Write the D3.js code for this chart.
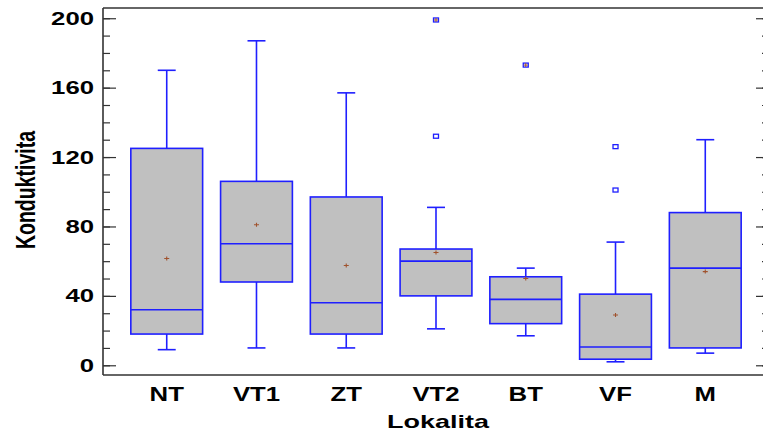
<!DOCTYPE html>
<html><head><meta charset="utf-8">
<script src="https://cdn.jsdelivr.net/npm/d3@7"></script>
<style>
html,body{margin:0;padding:0;background:#fff;}
text{font-family:"Liberation Sans",Arial,sans-serif;font-weight:bold;fill:#000;}
</style></head>
<body>
<svg id="chart" width="763" height="441"></svg>
<script>
const categories = ["NT","VT1","ZT","VT2","BT","VF","M"];
const whiskerLow  = [9, 10, 10, 21, 17, 2, 7];
const q1          = [18, 48, 18, 40, 24, 3.5, 10];
const medians     = [32, 70, 36, 60, 38, 10.5, 56];
const q3          = [125, 106, 97, 67, 51, 41, 88];
const whiskerHigh = [170, 187, 157, 91, 56, 71, 130];
const means       = [61.5, 81, 57.5, 65, 50, 29, 54];
const outliers    = [[], [], [], [132], [], [101, 126], []];
const farOutliers = [[], [], [], [199], [173], [], []];
const yTicks      = [0, 40, 80, 120, 160, 200];
const yMinorTicks = d3.range(0, 201, 10);
const xTitle = "Lokalita";
const yTitle = "Konduktivita";

const L = 103, R = 769, T = 8, B = 375;
const svg = d3.select("#chart");
const x = d3.scalePoint().domain(categories).range([L, R]).padding(0.71);
const y = d3.scaleLinear().domain([-5.6, 205.9]).range([B, T]);
const step = x.step();
const boxW = step * 0.8, capW = step * 0.2;
const blue = "#1f1fff", axisCol = "#333";

// frame
svg.append("line").attr("x1", L).attr("x2", R).attr("y1", T).attr("y2", T)
  .attr("stroke", axisCol).attr("stroke-width", 1.6);
svg.append("line").attr("x1", L).attr("x2", R).attr("y1", B).attr("y2", B)
  .attr("stroke", axisCol).attr("stroke-width", 1.6);
svg.append("line").attr("x1", L).attr("x2", L).attr("y1", T).attr("y2", B)
  .attr("stroke", axisCol).attr("stroke-width", 1.6);

// axes ticks (inward)
function styleAxis(g){ g.select(".domain").remove(); g.selectAll("line").attr("stroke", axisCol).attr("stroke-width",1.2); }
svg.append("g").attr("transform", `translate(${L},0)`)
  .call(d3.axisLeft(y).tickValues(yMinorTicks).tickSize(-7).tickFormat("")).call(styleAxis);
svg.append("g").attr("transform", `translate(${L},0)`)
  .call(d3.axisLeft(y).tickValues(yTicks).tickSize(-13).tickFormat("")).call(styleAxis);
svg.append("g").attr("transform", `translate(${R},0)`)
  .call(d3.axisLeft(y).tickValues(yMinorTicks).tickSize(7).tickFormat("")).call(styleAxis);
svg.append("g").attr("transform", `translate(${R},0)`)
  .call(d3.axisLeft(y).tickValues(yTicks).tickSize(13).tickFormat("")).call(styleAxis);

// tick labels (horizontally stretched like the reference)
svg.append("g").selectAll("text").data(yTicks).join("text")
  .attr("transform", d => `translate(94,${y(d) + 6.5}) scale(1.43,1)`)
  .attr("text-anchor", "end").style("font-size", "18px").text(d => d);

svg.append("g").selectAll("text").data(categories).join("text")
  .attr("transform", d => `translate(${x(d)},401) scale(1.32,1)`)
  .attr("text-anchor", "middle").style("font-size", "19.5px").text(d => d);

svg.append("text").attr("transform", "translate(438,428) scale(1.42,1)")
  .attr("text-anchor", "middle").style("font-size", "19px").text(xTitle);
svg.append("text").attr("transform", "translate(35,190) scale(1.4,1) rotate(-90)")
  .attr("text-anchor", "middle").style("font-size", "19.5px").text(yTitle);

// boxes
const g = svg.append("g");
categories.forEach((c, i) => {
  const cx = x(c);
  const line = (x1, y1, x2, y2) => g.append("line").attr("x1", x1).attr("y1", y1).attr("x2", x2).attr("y2", y2)
    .attr("stroke", blue).attr("stroke-width", 1.6);
  // whiskers
  line(cx, y(q3[i]), cx, y(whiskerHigh[i]));
  line(cx, y(q1[i]), cx, y(whiskerLow[i]));
  line(cx - capW/2, y(whiskerHigh[i]), cx + capW/2, y(whiskerHigh[i]));
  line(cx - capW/2, y(whiskerLow[i]), cx + capW/2, y(whiskerLow[i]));
  // box
  g.append("rect").attr("x", cx - boxW/2).attr("y", y(q3[i]))
    .attr("width", boxW).attr("height", y(q1[i]) - y(q3[i]))
    .attr("fill", "#c0c0c0").attr("stroke", blue).attr("stroke-width", 1.6);
  line(cx - boxW/2, y(medians[i]), cx + boxW/2, y(medians[i]));
  // mean
  const my = y(means[i]);
  g.append("path").attr("d", `M${cx-2.5},${my}H${cx+2.5}M${cx},${my-2}V${my+2}`)
    .attr("stroke", "#a0522d").attr("stroke-width", 1.1).attr("fill", "none");
  // outliers
  outliers[i].forEach(v => {
    g.append("rect").attr("x", cx - 2.5).attr("y", y(v) - 2).attr("width", 5).attr("height", 4)
      .attr("fill", "none").attr("stroke", blue).attr("stroke-width", 1.3);
  });
  farOutliers[i].forEach(v => {
    g.append("rect").attr("x", cx - 2.5).attr("y", y(v) - 2).attr("width", 5).attr("height", 4)
      .attr("fill", "none").attr("stroke", blue).attr("stroke-width", 1.3);
    g.append("path").attr("d", `M${cx-2},${y(v)}H${cx+2}M${cx},${y(v)-2}V${y(v)+2}`)
      .attr("stroke", "#a0522d").attr("stroke-width", 1).attr("fill", "none");
  });
});
</script>
</body></html>
